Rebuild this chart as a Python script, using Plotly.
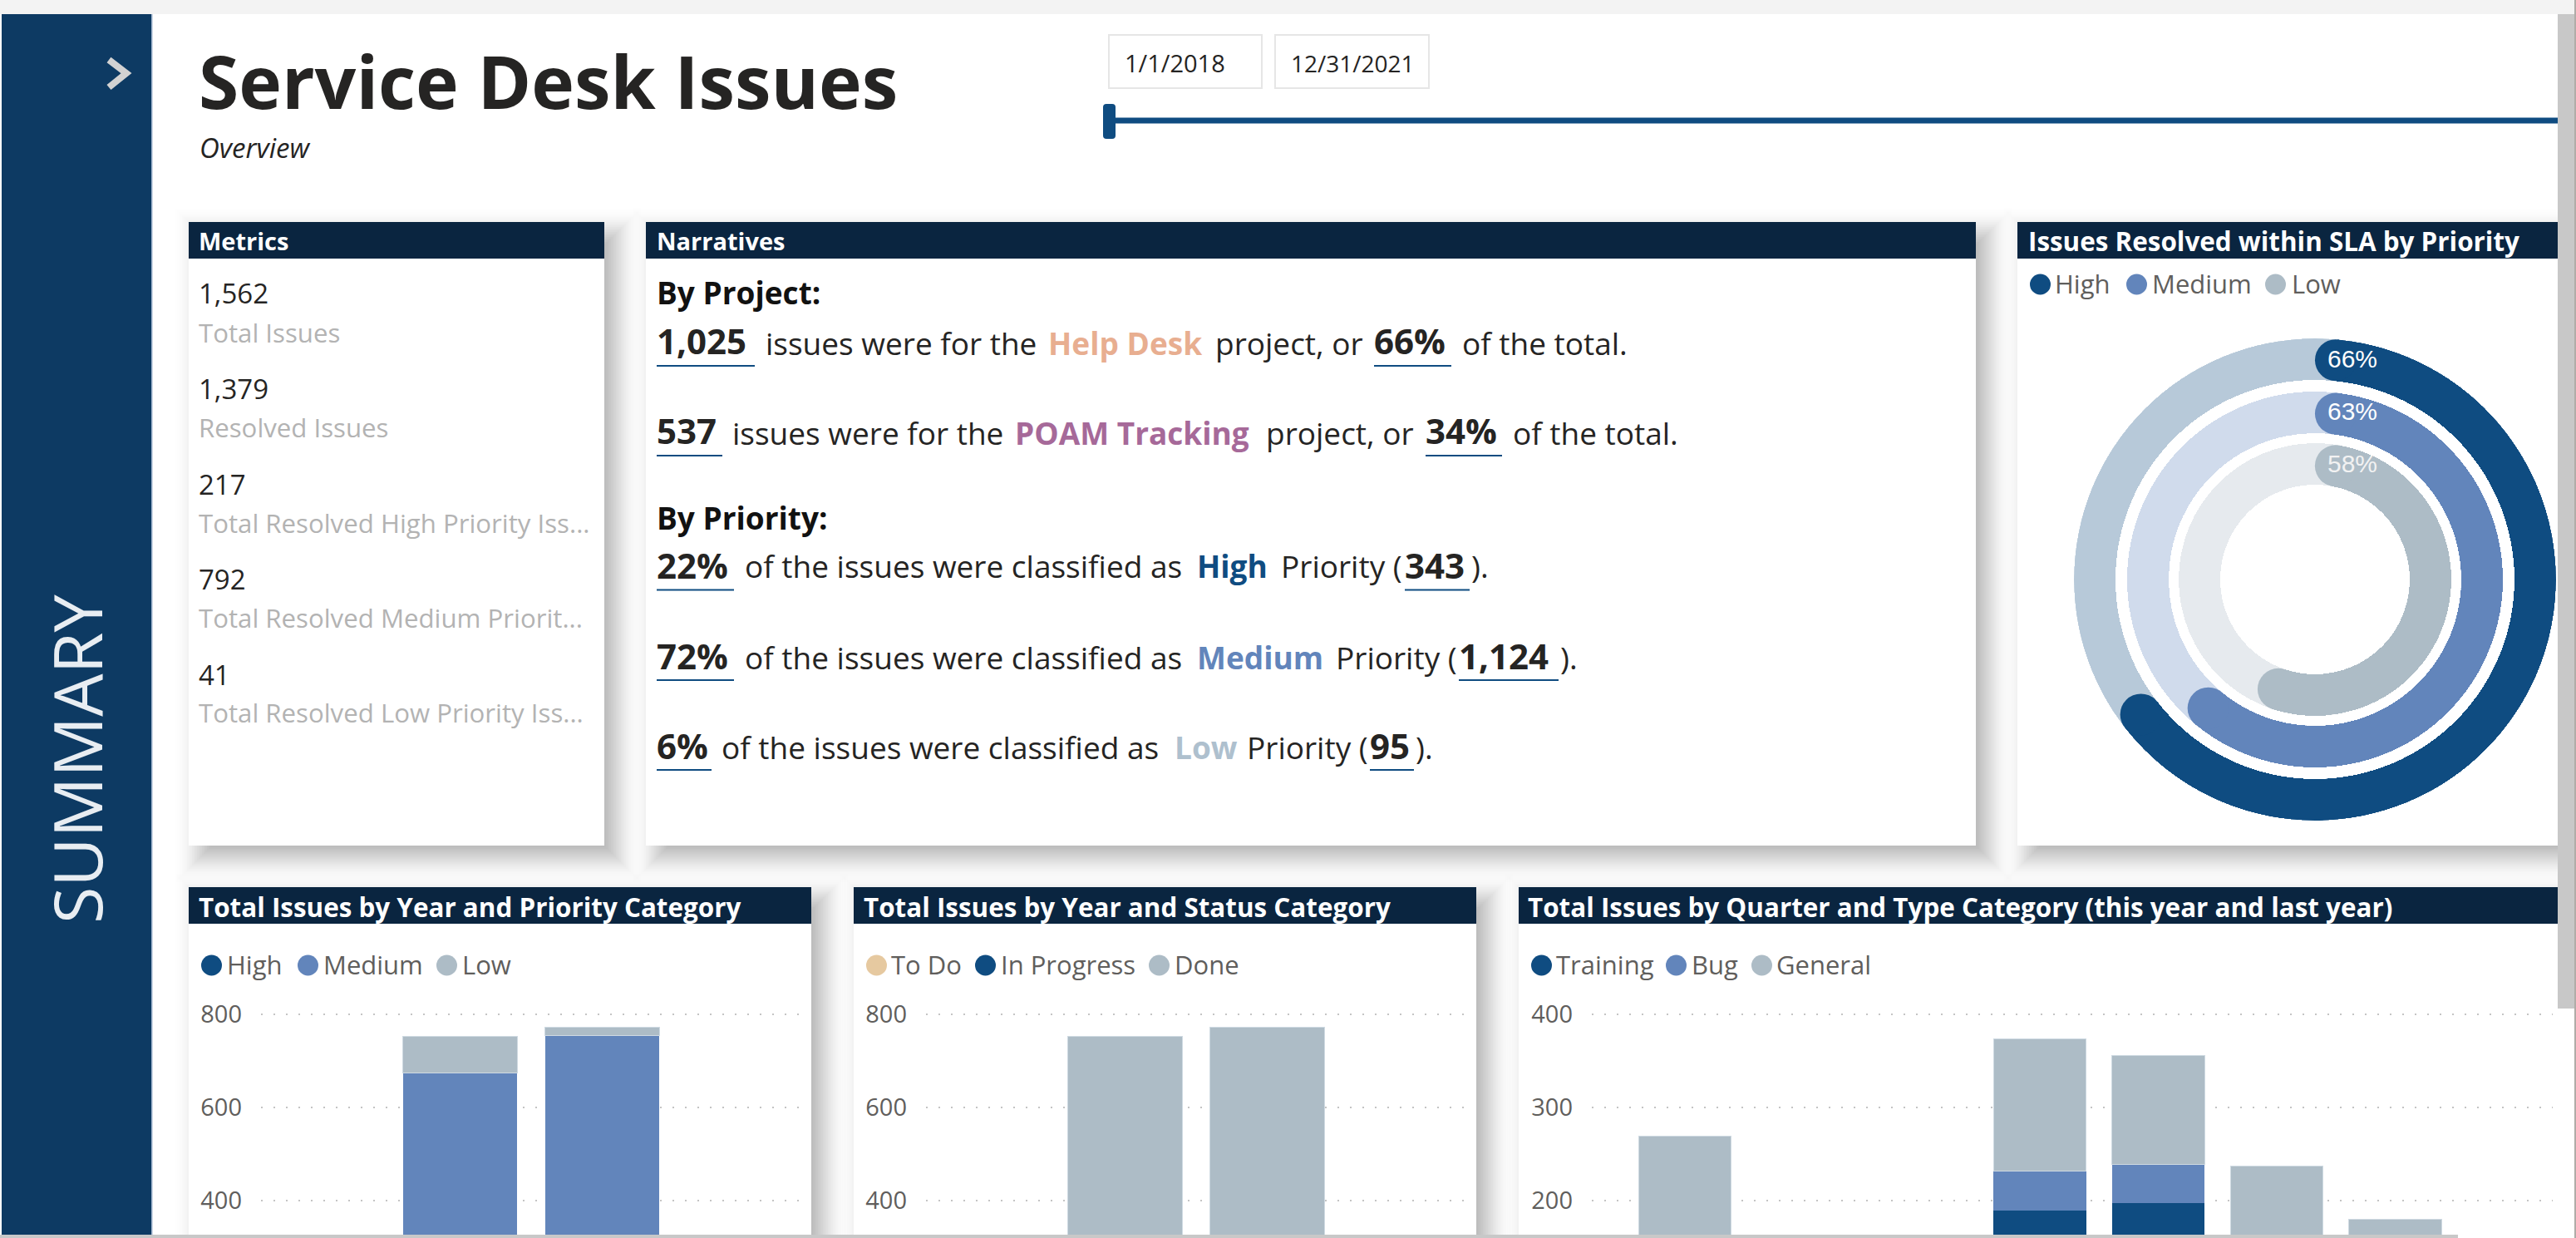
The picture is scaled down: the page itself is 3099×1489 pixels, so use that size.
import math
import plotly.graph_objects as go

W, H = 3099, 1489

# ---------- data ----------
metric_values = [1562, 1379, 217, 792, 41]
metric_labels = ["Total Issues", "Resolved Issues", "Total Resolved High Priority Iss...",
                 "Total Resolved Medium Priorit...", "Total Resolved Low Priority Iss..."]
project_names = ["Help Desk", "POAM Tracking"]
project_counts = [1025, 537]
project_shares = [66, 34]
priority_names = ["High", "Medium", "Low"]
priority_counts = [343, 1124, 95]
priority_shares = [22, 72, 6]
sla_percent = [66, 63, 58]

years = ["2018", "2019", "2020", "2021"]
prio_high = [0, 170, 173, 0]
prio_medium = [25, 504, 582, 13]
prio_low = [0, 78, 17, 0]

status_names = ["To Do", "In Progress", "Done"]
status_todo = [0, 10, 12, 0]
status_progress = [2, 60, 95, 4]
status_done = [23, 683, 665, 9]

quarters = ["2020 Q1", "2020 Q2", "2020 Q3", "2020 Q4", "2021 Q1", "2021 Q2", "2021 Q3", "2021 Q4"]
type_names = ["Training", "Bug", "General"]
type_training = [50, 15, 10, 189, 197, 45, 30, 8]
type_bug = [50, 10, 10, 43, 42, 40, 30, 7]
type_general = [169, 40, 30, 142, 117, 152, 120, 25]

# ---------- colours ----------
NAVY = "#0A2540"
SIDE = "#0D3A63"
BLUE = "#0F4C81"
MID = "#6285BB"
GREY = "#ADBCC6"
TODO = "#E6C9A0"
TEXT = "#252423"
LBL = "#B3B3B3"
TICK = "#605E5C"
FONT = "Open Sans"

def fx(x): return x / W
def fy(y): return 1 - y / H

shapes = []
ann = []

def rect(x0, y0, x1, y1, fill, layer="below", line=None, opacity=None):
    s = dict(type="rect", xref="paper", yref="paper", x0=fx(x0), x1=fx(x1), y0=fy(y1), y1=fy(y0),
             fillcolor=fill, layer=layer, line=dict(width=0) if line is None else line)
    if opacity is not None:
        s["opacity"] = opacity
    shapes.append(s)

def circle(x0, y0, x1, y1, fill):
    shapes.append(dict(type="circle", xref="paper", yref="paper", x0=fx(x0), x1=fx(x1), y0=fy(y1), y1=fy(y0),
                       fillcolor=fill, layer="below", line=dict(width=0)))

def hline(x0, x1, y, color=BLUE, w=2):
    shapes.append(dict(type="line", xref="paper", yref="paper", x0=fx(x0), x1=fx(x1), y0=fy(y), y1=fy(y),
                       line=dict(color=color, width=w), layer="above"))

def text(x, y, s, size, color=TEXT, bold=False, anchor="left", family=FONT, angle=None, weight=None):
    a = dict(xref="paper", yref="paper", x=fx(x), y=fy(y), text=s, showarrow=False, xanchor=anchor,
             yanchor="middle", borderpad=0, borderwidth=0,
             font=dict(family=family, size=size, color=color,
                       weight=weight if weight else (700 if bold else 400)))
    if angle is not None:
        a["textangle"] = angle
    ann.append(a)

def shadow(x0, y0, x1, y1):
    off = 14
    steps = list(range(34, -22, -2))
    sigma = 15.0
    weights = [math.exp(-(e / sigma) ** 2 / 2) for e in steps]
    total = sum(weights)
    for e, g in zip(steps, weights):
        a = 0.30 * g / total
        rect(x0 + off - e, y0 + off - e, min(x1 + off + e, 3077), y1 + off + e, "rgba(0,0,0,%.4f)" % a)

# page furniture
rect(0, 0, W, 17, "#F3F3F3")
rect(2, 17, 182, H, SIDE)
rect(182, 17, 183.5, H, "#9DB2CC")

panels = [(227, 267, 727, 1017), (777, 267, 2377, 1017), (2427, 267, 3077, 1017),
          (227, 1067, 976, 1500), (1027, 1067, 1776, 1500), (1827, 1067, 3077, 1500)]
for p in panels:
    shadow(*p)
for x0, y0, x1, y1 in panels:
    rect(x0, y0, x1, y1, "white")
    rect(x0, y0, x1, y0 + 44, NAVY)

# scrollbars
rect(3077, 17, 3097, 1213, "#C8C8C8", layer="above")
rect(3097, 0, W, H, "#B0ACA8", layer="above")
rect(0, 1485, 2957, H, "#C8C8C8", layer="above")

# chevron
shapes.append(dict(type="path", xref="paper", yref="paper",
                   path="M %f,%f L %f,%f L %f,%f" % (fx(131), fy(72), fx(152), fy(88), fx(131), fy(105)),
                   line=dict(color="#D2D2D2", width=8), layer="above"))
text(91, 913, "SUMMARY", 81, "#E8EDF2", angle=-90, anchor="center", weight=400)

# title
text(239, 97, "<b>Service Desk Issues</b>", 87.5, TEXT)
text(240, 178, "<i>Overview</i>", 33, TEXT)

# date slicer
rect(1334, 42, 1518, 106, "white", line=dict(color="#E6E6E6", width=2))
rect(1534, 42, 1719, 106, "white", line=dict(color="#E6E6E6", width=2))
text(1353, 76, "1/1/2018", 29, TEXT)
text(1553, 76, "12/31/2021", 28, TEXT)
rect(1334, 141.5, 3077, 148.5, BLUE)
shapes.append(dict(type="path", xref="paper", yref="paper", layer="above", fillcolor=BLUE, line=dict(width=0),
                   path="M %f,%f L %f,%f Q %f,%f %f,%f L %f,%f Q %f,%f %f,%f L %f,%f Q %f,%f %f,%f L %f,%f Q %f,%f %f,%f Z" % (
                       fx(1331), fy(125), fx(1338), fy(125), fx(1342), fy(125), fx(1342), fy(129),
                       fx(1342), fy(163), fx(1342), fy(167), fx(1338), fy(167),
                       fx(1331), fy(167), fx(1327), fy(167), fx(1327), fy(163),
                       fx(1327), fy(129), fx(1327), fy(125), fx(1331), fy(125))))

# panel titles
for x, y, s, sz in [(239, 289, "Metrics", 29), (790, 289, "Narratives", 29), (2440, 289, "Issues Resolved within SLA by Priority", 31.4),
                (239, 1090, "Total Issues by Year and Priority Category", 31.4),
                (1039, 1090, "Total Issues by Year and Status Category", 31.4),
                (1838, 1090, "Total Issues by Quarter and Type Category (this year and last year)", 31.4)]:
    text(x, y, "<b>%s</b>" % s, sz, "white")

# metrics
val_y = [353, 467.5, 582, 696, 811]
lab_y = [400, 514, 629, 743, 857]
for v, l, y1, y2 in zip(metric_values, metric_labels, val_y, lab_y):
    text(239, y1, f"{v:,}", 33, TEXT)
    text(239, y2, l, 31.2, LBL)

# narratives
NS = 37
BS = 42
def plain(x, y, s): text(x, y, s, NS, TEXT)
def num(x0, x1, y, uy, s):
    text(x0, y, "<b>%s</b>" % s, BS, TEXT)
    hline(x0, x1, uy)
def col(x, y, s, c): text(x, y, "<b>%s</b>" % s, NS, c)

text(790, 352, "<b>By Project:</b>", 37, "#111111")
num(790, 908, 410, 440, f"{project_counts[0]:,}")
plain(921, 412, "issues were for the")
col(1261, 412, project_names[0], "#E8AE90")
plain(1462, 412, "project, or")
num(1653, 1746, 410, 440, f"{project_shares[0]}%")
plain(1759, 412, "of the total.")

num(790, 869, 518, 548, f"{project_counts[1]:,}")
plain(881, 520, "issues were for the")
col(1221, 520, project_names[1], "#A66999")
plain(1523, 520, "project, or")
num(1715, 1807, 518, 548, f"{project_shares[1]}%")
plain(1820, 520, "of the total.")

text(790, 622, "<b>By Priority:</b>", 37, "#111111")
lines = [(679, 709.5, 790, 883, 896, 1440, BLUE, 1541, 1690, 1768),
         (788, 818, 790, 883, 896, 1440, MID, 1607, 1755, 1875),
         (896, 926, 790, 856, 868, 1413, "#AEC0CE", 1500, 1648, 1701)]
for i, (y, uy, a0, a1, tx, nx, c, px_, n0, n1) in enumerate(lines):
    num(a0, a1, y, uy, f"{priority_shares[i]}%")
    plain(tx, y + 2, "of the issues were classified as")
    col(nx, y + 2, priority_names[i], c)
    plain(px_, y + 2, "Priority (")
    num(n0, n1, y, uy, f"{priority_counts[i]:,}")
    plain(n1 + 2, y + 2, ").")

# legends
def legend(y, items):
    for cx0, tx, name, c in items:
        circle(cx0, y - 12.5, cx0 + 25, y + 12.5, c)
        text(tx, y - 1, name, 31, TICK)

legend(342, [(2442, 2472, priority_names[0], BLUE), (2558, 2589, priority_names[1], MID), (2725, 2757, priority_names[2], GREY)])
legend(1161, [(242, 273, priority_names[0], BLUE), (358, 389, priority_names[1], MID), (525, 556, priority_names[2], GREY)])
legend(1161, [(1042, 1072, status_names[0], TODO), (1173, 1204, status_names[1], BLUE), (1382, 1413, status_names[2], GREY)])
legend(1161, [(1842, 1872, type_names[0], BLUE), (2004, 2035, type_names[1], MID), (2107, 2137, type_names[2], GREY)])

# ---------- charts ----------
fig = go.Figure()

def add_stack(cats, series, colors, xa, ya, width):
    for vals, c in zip(series, colors):
        edge = dict(width=1, color="#CFDAE2") if c == GREY else dict(width=0)
        fig.add_trace(go.Bar(x=cats, y=vals, marker=dict(color=c, line=edge), width=width,
                             xaxis=xa, yaxis=ya, showlegend=False, hoverinfo="skip"))

add_stack(years, [prio_high, prio_medium, prio_low], [BLUE, MID, GREY], "x", "y", 0.804)
add_stack(years, [status_todo, status_progress, status_done], [TODO, BLUE, GREY], "x2", "y2", 0.804)
add_stack(quarters, [type_training, type_bug, type_general], [BLUE, MID, GREY], "x3", "y3", 0.782)

GY_TOP, GY_BOT = 1200, 1485
def y_axis(top_val, per_px, ticks):
    # top gridline is at pixel 1220
    return dict(domain=[fy(GY_BOT), fy(GY_TOP)],
                range=[top_val - (GY_BOT - 1220) * per_px, top_val + (1220 - GY_TOP) * per_px],
                tickvals=ticks, tickfont=dict(family=FONT, size=29, color=TICK),
                showgrid=True, gridcolor="#C4C4C4", gridwidth=2, griddash="2px,13px",
                zeroline=False, showline=False, ticks="", ticklabelstandoff=22)

def x_axis(x0, x1, lo, hi, cats):
    return dict(domain=[fx(x0), fx(x1)], range=[lo, hi], type="category", categoryorder="array",
                categoryarray=cats, showticklabels=False, showgrid=False, zeroline=False,
                showline=False, ticks="")

layout = dict(
    xaxis=x_axis(314, 962, -0.40, 3.389, years), yaxis=dict(y_axis(800, 200 / 112, [400, 600, 800]), anchor="x"),
    xaxis2=x_axis(1114, 1762, -0.40, 3.389, years), yaxis2=dict(y_axis(800, 200 / 112, [400, 600, 800]), anchor="x2"),
    xaxis3=x_axis(1915, 3071, -0.785, 7.33, quarters), yaxis3=dict(y_axis(400, 100 / 112, [200, 300, 400]), anchor="x3"),
)
layout["xaxis"]["anchor"] = "y"
layout["xaxis2"]["anchor"] = "y2"
layout["xaxis3"]["anchor"] = "y3"

# concentric rings on a polar subplot whose radial unit is one pixel
CX, CY, R = 2785, 697, 290
rings = [(240, 50, "#B7C9D9", BLUE), (176, 50, "#D0DBEC", MID), (114, 50, "#E6EAEE", GREY)]
for (base, th, track, c), pct in zip(rings, sla_percent):
    mid = base + th / 2
    cap = math.degrees((th / 2) / mid)
    end = pct * 3.6
    fig.add_trace(go.Barpolar(r=[th], base=[base], theta=[180], width=[360], marker=dict(color=track, line=dict(width=0)),
                              subplot="polar", showlegend=False, hoverinfo="skip"))
    fig.add_trace(go.Barpolar(r=[th], base=[base], theta=[end / 2], width=[end - 2 * cap], marker=dict(color=c, line=dict(width=0)),
                              subplot="polar", showlegend=False, hoverinfo="skip"))
    fig.add_trace(go.Scatterpolar(r=[mid, mid], theta=[cap, end - cap], mode="markers",
                                  marker=dict(color=c, size=th, line=dict(width=0)),
                                  subplot="polar", showlegend=False, hoverinfo="skip"))

for pct, y, c in zip(sla_percent, [432, 494, 557], ["white", "white", "#F2F2F2"]):
    text(2830, y, f"{pct}%", 30, c, anchor="center", family="Liberation Sans")

layout["polar"] = dict(domain=dict(x=[fx(CX - R), fx(CX + R)], y=[fy(CY + R), fy(CY - R)]),
                       bgcolor="rgba(0,0,0,0)",
                       radialaxis=dict(range=[0, R], visible=False),
                       angularaxis=dict(direction="clockwise", rotation=90, visible=False))

fig.update_layout(width=W, height=H, margin=dict(l=0, r=0, t=0, b=0), paper_bgcolor="white", plot_bgcolor="rgba(0,0,0,0)",
                  barmode="stack", showlegend=False, shapes=shapes, annotations=ann, **layout)

fig.write_html("out.html", config=dict(displayModeBar=False),
               post_script="document.body.style.margin='0';document.body.style.overflow='hidden';")
